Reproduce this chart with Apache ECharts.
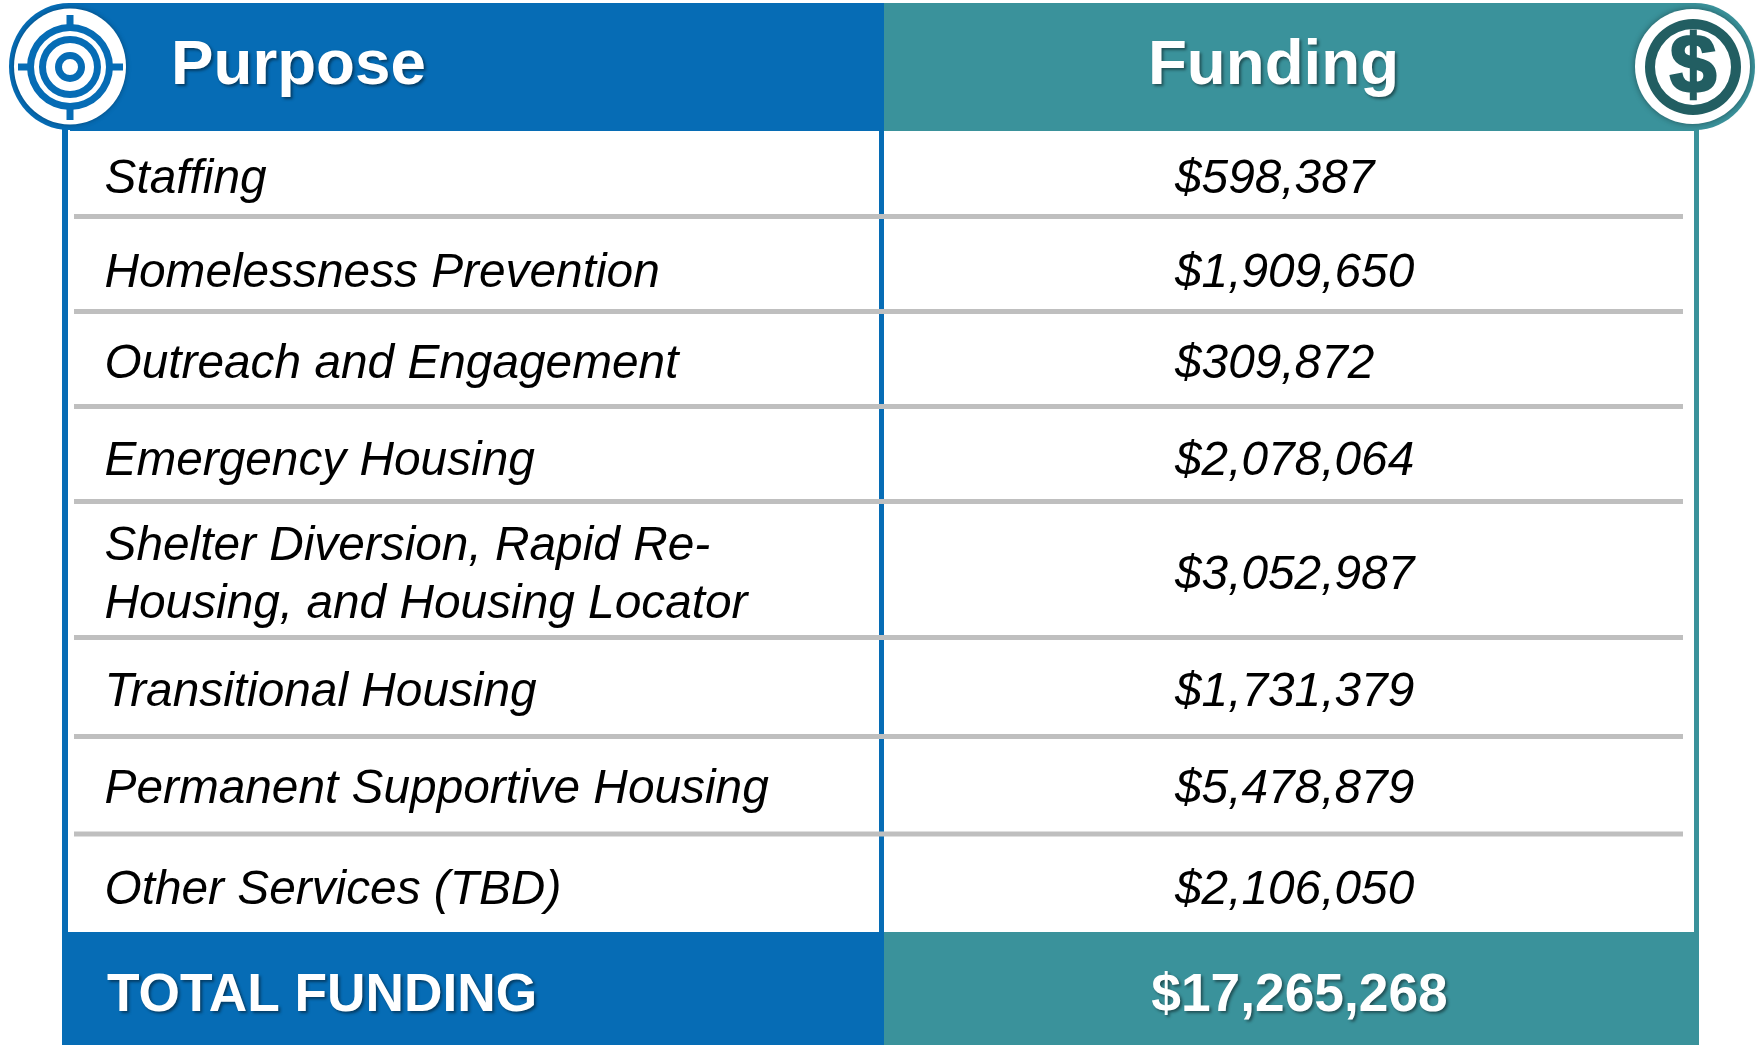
<!DOCTYPE html>
<html>
<head>
<meta charset="utf-8">
<style>html,body{margin:0;padding:0;background:#fff}#main{width:1763px;height:1045px}</style>
<script src="https://cdn.jsdelivr.net/npm/echarts@6/dist/echarts.min.js"></script>
</head>
<body>
<div id="main"></div>
<script>
var purposes = ['Staffing', 'Homelessness Prevention', 'Outreach and Engagement', 'Emergency Housing',
    'Shelter Diversion, Rapid Re-\nHousing, and Housing Locator', 'Transitional Housing',
    'Permanent Supportive Housing', 'Other Services (TBD)'];
var funding = ['$598,387', '$1,909,650', '$309,872', '$2,078,064', '$3,052,987', '$1,731,379', '$5,478,879', '$2,106,050'];
var headers = ['Purpose', 'Funding'];
var totalLabel = 'TOTAL FUNDING';
var totalValue = '$17,265,268';

// row text centres and rule positions, in page pixels
var rowCentres = [180, 274, 365, 462, 576, 693, 790, 891];
var rules = [216.5, 311.5, 406.5, 501.5, 637.5, 736.5, 834];

var BLUE = '#066cb5', TEAL = '#3a929b', DARK = '#225e62', GRAY = '#bfbfbf';
var FONT = '"Liberation Sans", Arial, sans-serif';

function shadowText(x, y, text, size, align) {
    return {
        type: 'text', x: x, y: y, z: 20,
        style: {
            text: text, fill: '#fff', font: 'bold ' + size + 'px ' + FONT,
            align: align, verticalAlign: 'middle',
            textShadowColor: 'rgba(0,0,0,0.45)', textShadowBlur: 3, textShadowOffsetX: 2, textShadowOffsetY: 2
        }
    };
}
function rect(x, y, w, h, fill, z) {
    return {type: 'rect', z: z || 1, shape: {x: x, y: y, width: w, height: h}, style: {fill: fill}};
}
function ring(cx, cy, r0, r, fill, z) {
    return {type: 'ring', z: z, shape: {cx: cx, cy: cy, r0: r0, r: r}, style: {fill: fill}};
}
function ellipse(cx, cy, rx, ry, style, z) {
    return {type: 'ellipse', z: z, shape: {cx: cx, cy: cy, rx: rx, ry: ry}, style: style};
}

var tx = 70, ty = 67, dx = 1693, dy = 67;
var chrome = [
    // column borders and footer
    rect(62, 120, 6, 815, BLUE), rect(879, 120, 5, 815, BLUE), rect(1694, 120, 5, 815, TEAL),
    rect(62, 932, 822, 113, BLUE), rect(884, 932, 815, 113, TEAL),
    // header bars
    rect(70, 3, 814, 128, BLUE, 2), rect(884, 3, 811, 128, TEAL, 2),
    // target badge
    ellipse(69, 66.5, 60, 63.5, {fill: BLUE}, 3),
    ellipse(tx, 66.5, 56, 58, {fill: '#fff', shadowColor: 'rgba(0,0,0,0.35)', shadowBlur: 5}, 4),
    ring(tx, ty, 36, 43, BLUE, 5), ring(tx, ty, 24, 31, BLUE, 5), ring(tx, ty, 8, 15, BLUE, 5),
    rect(tx - 3.5, 15, 7, 12, BLUE, 5), rect(tx - 3.5, 107, 7, 13, BLUE, 5),
    rect(18, ty - 3.5, 12, 7, BLUE, 5), rect(110, ty - 3.5, 13, 7, BLUE, 5),
    // dollar badge
    ellipse(1695, 66.5, 60, 63.5, {fill: TEAL}, 3),
    ellipse(1692.5, 66.5, 57.5, 57.5, {fill: '#fff', shadowColor: 'rgba(0,0,0,0.4)', shadowBlur: 6}, 4),
    ring(dx, dy, 38, 48, DARK, 5),
    {type: 'text', x: dx, y: dy + 3, z: 6, style: {text: '$', fill: DARK, stroke: DARK, lineWidth: 2.5, font: 'bold 84px ' + FONT, align: 'center', verticalAlign: 'middle'}},
    // header and footer text
    shadowText(171, 66, headers[0], 63.7, 'left'),
    shadowText(1273.5, 66, headers[1], 63.7, 'center'),
    shadowText(107, 996, totalLabel, 53.3, 'left'),
    shadowText(1299.5, 996, totalValue, 53.3, 'center')
];
rules.forEach(function (y) {
    chrome.push(rect(74, y - 2.5, 1609, 5, GRAY, 3));
});

var rowData = purposes.map(function (p, i) {
    return [i, rowCentres[i], p, funding[i]];
});

var myChart = echarts.init(document.getElementById('main'));
myChart.setOption({
    animation: false,
    backgroundColor: '#fff',
    graphic: chrome,
    grid: {left: 0, right: 0, top: 0, bottom: 0},
    xAxis: {type: 'value', min: 0, max: 1763, show: false},
    yAxis: {type: 'value', min: 0, max: 1045, inverse: true, show: false},
    series: [{
        type: 'custom',
        coordinateSystem: 'cartesian2d',
        z: 10,
        encode: {y: 1},
        data: rowData,
        renderItem: function (params, api) {
            var y = api.coord([0, api.value(1)])[1];
            var i = params.dataIndex;
            var common = {fill: '#000', font: 'italic 47.8px ' + FONT, verticalAlign: 'middle', lineHeight: 58};
            return {
                type: 'group',
                children: [
                    {type: 'text', x: api.coord([104.5, 0])[0], y: y, style: Object.assign({text: purposes[i], align: 'left'}, common)},
                    {type: 'text', x: api.coord([1175, 0])[0], y: y, style: Object.assign({text: funding[i], align: 'left'}, common)}
                ]
            };
        }
    }]
});
</script>
</body>
</html>
